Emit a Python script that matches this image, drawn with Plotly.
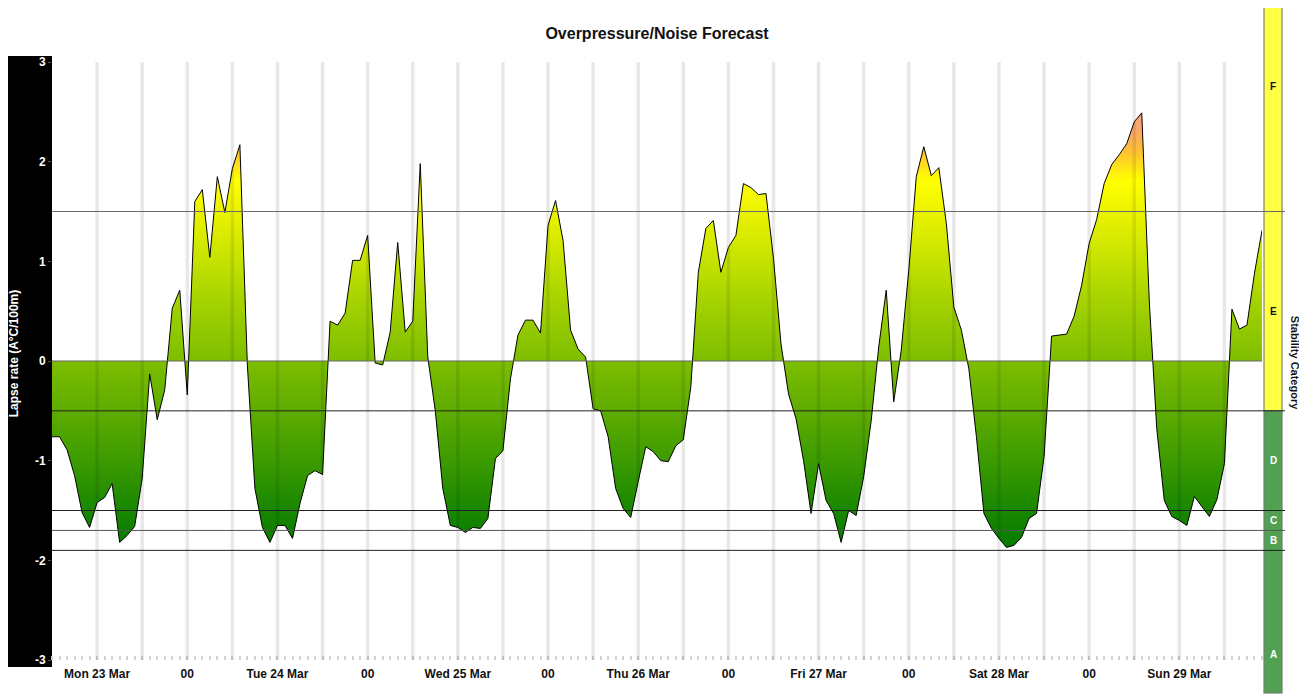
import pandas as pd
import plotly.graph_objects as go

# ---------------- data ----------------
start_time = "2026-03-23 06:00"
lapse_rate = [
    -0.76, -0.76, -0.89, -1.15, -1.52, -1.67, -1.42, -1.37, -1.23, -1.82, -1.75, -1.66, -1.18,
    -0.13, -0.59, -0.29, 0.53, 0.71, -0.34, 1.60, 1.72, 1.04, 1.85, 1.49, 1.93, 2.17, -0.05,
    -1.28, -1.67, -1.82, -1.65, -1.65, -1.78,
    -1.43, -1.15, -1.10, -1.14, 0.40, 0.36, 0.48, 1.01, 1.01, 1.26, -0.02, -0.04, 0.29, 1.19,
    0.29, 0.40, 1.98, 0.04, -0.50, -1.28, -1.65, -1.67, -1.72, -1.67, -1.68, -1.58, -0.98,
    -0.90, -0.18, 0.26, 0.41, 0.41,
    0.28, 1.36, 1.61, 1.21, 0.31, 0.12, 0.04, -0.48, -0.50, -0.76, -1.28, -1.48, -1.57, -1.21,
    -0.86, -0.91, -1.00, -1.01, -0.85, -0.79, -0.26, 0.89, 1.33, 1.41, 0.89, 1.14, 1.26, 1.78,
    1.74, 1.67, 1.68, 1.03,
    0.17, -0.33, -0.58, -1.00, -1.53, -1.03, -1.40, -1.53, -1.82, -1.50, -1.55, -1.16, -0.60,
    0.14, 0.71, -0.41, 0.11, 0.91, 1.85, 2.15, 1.86, 1.94, 1.38, 0.54, 0.31, -0.08, -0.76,
    -1.53, -1.68, -1.78, -1.87, -1.85,
    -1.77, -1.58, -1.53, -0.96, 0.25, 0.26, 0.27, 0.45, 0.76, 1.18, 1.42, 1.78, 1.97, 2.07,
    2.18, 2.40, 2.49, 0.60, -0.68, -1.40, -1.56, -1.60, -1.65, -1.36, -1.46, -1.56, -1.39,
    -1.03, 0.52, 0.32, 0.36, 0.88, 1.31,
]
threshold_levels = [1.5, -0.5, -1.5, -1.7, -1.9]
threshold_colors = ["#6a6a6a", "#222222", "#222222", "#555555", "#222222"]
stability_labels = ["F", "E", "D", "C", "B", "A"]
stability_label_y = [2.75, 0.5, -1.0, -1.6, -1.8, -2.94]
stability_label_colors = ["#111111", "#111111", "white", "white", "white", "white"]
y_ticks = [3, 2, 1, 0, -1, -2, -3]
y_tick_text = ["3", "2", "1", "0", "-1", "-2", "-3"]

times = pd.date_range(start_time, periods=len(lapse_rate), freq="h")

# x ticks every 6 hours; noon -> day label, midnight -> "00"
tick_times = pd.date_range("2026-03-23 12:00", "2026-03-29 18:00", freq="6h")
tick_text = []
for t in tick_times:
    if t.hour == 12:
        tick_text.append(t.strftime("%a %d Mar").replace(" 0", " "))
    elif t.hour == 0:
        tick_text.append("00")
    else:
        tick_text.append("")

FONT = "Liberation Sans, Arial, Helvetica, sans-serif"

# page offset (browser body margin) compensation
W, H = 1299, 688
PW, PH = 1210, 598  # plot area size in px

fig = go.Figure()
fig.add_trace(go.Scatter(
    x=times, y=lapse_rate, mode="lines",
    line=dict(color="black", width=1),
    fill="tozeroy",
    fillgradient=dict(
        type="vertical", start=-2.0, stop=2.6,
        colorscale=[
            [0.000, "rgb(0,120,0)"],
            [0.109, "rgb(25,135,0)"],
            [0.217, "rgb(60,155,0)"],
            [0.326, "rgb(95,172,0)"],
            [0.435, "rgb(125,190,0)"],
            [0.543, "rgb(158,207,0)"],
            [0.652, "rgb(196,226,0)"],
            [0.761, "rgb(236,243,0)"],
            [0.830, "rgb(255,255,0)"],
            [0.891, "rgb(255,192,50)"],
            [0.935, "rgb(250,170,100)"],
            [1.000, "rgb(250,155,150)"],
        ],
    ),
    hoverinfo="x+y", showlegend=False,
))

shapes = []
# left black axis band
shapes.append(dict(type="rect", xref="paper", yref="paper", x0=-44/PW, x1=0,
                   y0=-7/PH, y1=604/PH, fillcolor="black", line=dict(width=0), layer="below"))
# vertical 6-hourly grid stripes (over the fill, translucent)
for t in tick_times:
    shapes.append(dict(type="line", xref="x", yref="paper", x0=t, x1=t, y0=0, y1=1,
                       line=dict(color="rgba(0,0,0,0.09)", width=3.5), layer="above"))
# zero line
shapes.append(dict(type="line", xref="paper", yref="y", x0=0, x1=1, y0=0, y1=0,
                   line=dict(color="#666666", width=1), layer="above"))
# threshold lines, extending into the stability band
for lvl, col in zip(threshold_levels, threshold_colors):
    shapes.append(dict(type="line", xref="paper", yref="y", x0=0, x1=1233/PW, y0=lvl, y1=lvl,
                       line=dict(color=col, width=1), layer="above"))
# stability band (right)
band_x0, band_x1 = 1212/PW, 1230/PW
split = (threshold_levels[1] + 3) / 6
shapes.append(dict(type="rect", xref="paper", yref="paper", x0=band_x0, x1=band_x1,
                   y0=split, y1=655/PH, fillcolor="#ffff44",
                   line=dict(color="rgba(130,130,110,0.8)", width=1.5), layer="below"))
shapes.append(dict(type="rect", xref="paper", yref="paper", x0=band_x0, x1=band_x1,
                   y0=-33/PH, y1=split, fillcolor="#52a052",
                   line=dict(color="rgba(110,130,110,0.8)", width=1.5), layer="below"))

annotations = []
for lab, yv, col in zip(stability_labels, stability_label_y, stability_label_colors):
    annotations.append(dict(text=lab, xref="paper", yref="y", x=(band_x0 + band_x1) / 2, y=yv,
                            xanchor="center", yanchor="middle", showarrow=False,
                            font=dict(family=FONT, size=10, color=col, weight="bold")))
annotations.append(dict(text="Stability Category", xref="paper", yref="paper",
                        x=1243/PW, y=0.497, textangle=90, xanchor="center", yanchor="middle",
                        showarrow=False,
                        font=dict(family=FONT, size=11, color="#111111", weight="bold")))
annotations.append(dict(text="Lapse rate (A°C/100m)", xref="paper", yref="paper",
                        x=-38/PW, y=0.513, textangle=-90, xanchor="center", yanchor="middle",
                        showarrow=False,
                        font=dict(family=FONT, size=12, color="white", weight="bold")))

fig.update_layout(
    width=W, height=H,
    margin=dict(l=44, r=45, t=54, b=36),
    paper_bgcolor="white", plot_bgcolor="white",
    title=dict(text="Overpressure/Noise Forecast", x=(657 - 8)/W, xanchor="center",
               y=1 - (33 - 8)/H, yanchor="middle", yref="container",
               font=dict(family=FONT, size=16, color="#111111", weight="bold")),
    shapes=shapes, annotations=annotations,
    showlegend=False,
    xaxis=dict(
        range=[times[0], times[-1]],
        tickvals=tick_times, ticktext=tick_text,
        showgrid=False, zeroline=False, showline=False,
        ticks="", ticklabelstandoff=5,
        tickfont=dict(family=FONT, size=12, color="#111111", weight="bold"),
        minor=dict(dtick=3600000, ticks="inside", ticklen=4, tickwidth=2,
                   tickcolor="#d4d4d4", showgrid=False),
    ),
    yaxis=dict(
        range=[-3, 3], tickvals=y_ticks, ticktext=y_tick_text,
        showgrid=False, zeroline=False, showline=False,
        ticks="outside", ticklen=3, tickcolor="#555555",
        tickfont=dict(family=FONT, size=12, color="white", weight="bold"),
    ),
)

fig.write_html("out.html")
